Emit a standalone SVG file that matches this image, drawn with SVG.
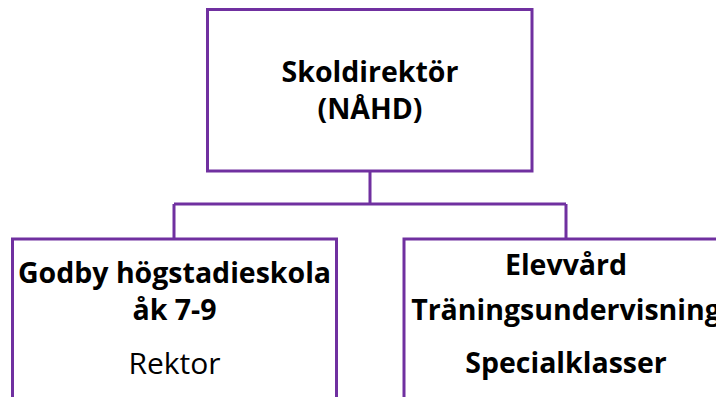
<svg xmlns="http://www.w3.org/2000/svg" width="716" height="397" viewBox="0 0 716 397">
<style>
.box{fill:#fff;stroke:#7030A0;stroke-width:3}
.con{fill:none;stroke:#7030A0;stroke-width:3}
text{font-family:"Open Sans","Noto Sans","Liberation Sans",sans-serif;font-size:28.5px;fill:#000;text-anchor:middle}
.b{font-weight:bold}
.r{font-size:30px}
</style>
<rect width="716" height="397" fill="#fff"/>
<g id="connectors">
<path class="con" d="M370 171V204M174 204H566M174 204V239M566 204V239"/>
</g>
<g id="skoldirektor">
<rect class="box" x="207.5" y="9.5" width="324.5" height="161.5"/>
<text class="b" x="370" y="82">Skoldirektör</text>
<text class="b" x="370" y="119">(NÅHD)</text>
</g>
<g id="godby">
<rect class="box" x="12.5" y="239" width="324" height="170"/>
<text class="b" x="174.5" y="283">Godby högstadieskola</text>
<text class="b" x="174.5" y="320">åk 7-9</text>
<text class="r" x="174.5" y="374">Rektor</text>
</g>
<g id="elevvard">
<rect class="box" x="404" y="239" width="324" height="170"/>
<text class="b" x="566" y="275">Elevvård</text>
<text class="b" x="566" y="320">Träningsundervisning</text>
<text class="b" x="566" y="373">Specialklasser</text>
</g>
</svg>
